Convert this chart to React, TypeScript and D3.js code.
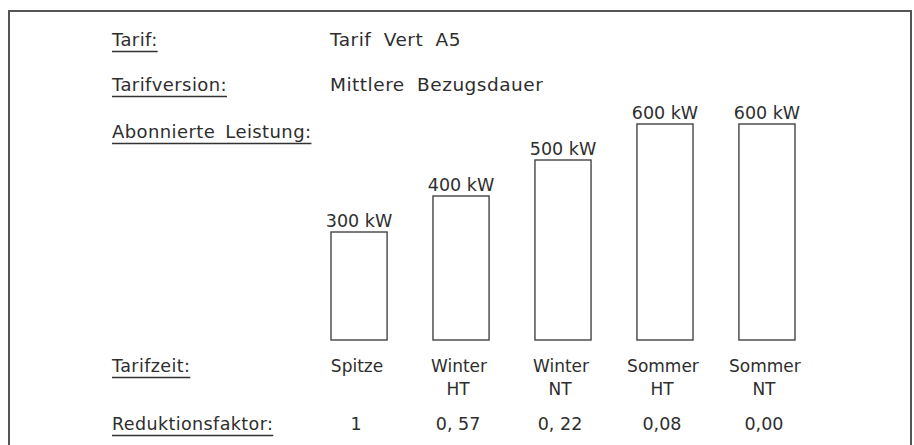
import React, { useEffect, useRef } from "react";
import * as d3 from "d3";

// header rows (label / value)
const headerLabels = ["Tarif:", "Tarifversion:", "Abonnierte Leistung:"];
const headerValues = ["Tarif Vert A5", "Mittlere Bezugsdauer", ""];

// one entry per tariff period
const tarifzeitTop = ["Spitze", "Winter", "Winter", "Sommer", "Sommer"];
const tarifzeitBottom = ["", "HT", "NT", "HT", "NT"];
const leistungKW = [300, 400, 500, 600, 600];
const reduktionsfaktor = ["1", "0, 57", "0, 22", "0,08", "0,00"];

const bottomLabels = ["Tarifzeit:", "Reduktionsfaktor:"];

const App = () => {
    const svgRef = useRef<SVGSVGElement>(null);

    useEffect(() => {
        const width = 914;
        const height = 445;
        const font = "'DejaVu Sans', sans-serif";
        const ink = "#2e2e2e";

        const svg = d3.select(svgRef.current);
        svg.selectAll("*").remove();
        svg.attr("width", width).attr("height", height);

        // frame, open at the bottom
        svg
            .append("path")
            .attr("d", `M9,${height} V11 H911 V${height}`)
            .attr("fill", "none")
            .attr("stroke", "#555")
            .attr("stroke-width", 2);

        const xScale = d3
            .scaleBand<number>()
            .domain(d3.range(leistungKW.length))
            .range([331, 795])
            .paddingInner(0.45)
            .paddingOuter(0);

        const yScale = d3.scaleLinear().domain([0, 600]).range([340, 124]);

        const cx = (i: number) => xScale(i)! + xScale.bandwidth() / 2;

        // left side labels with underline
        const labelX = 112;
        const labelRows = [
            { text: headerLabels[0], y: 46, size: 18 },
            { text: headerLabels[1], y: 91, size: 18 },
            { text: headerLabels[2], y: 138, size: 18 },
            { text: bottomLabels[0], y: 372, size: 17.5 },
            { text: bottomLabels[1], y: 430, size: 17.5 },
        ];

        labelRows.forEach((row) => {
            const t = svg
                .append("text")
                .attr("x", labelX)
                .attr("y", row.y)
                .style("font-family", font)
                .style("font-size", `${row.size}px`)
                .style("letter-spacing", "0.4px")
                .style("word-spacing", "4px")
                .style("fill", ink)
                .text(row.text);
            const w = (t.node() as SVGTextElement).getComputedTextLength();
            svg
                .append("line")
                .attr("x1", labelX)
                .attr("x2", labelX + w)
                .attr("y1", row.y + 5.5)
                .attr("y2", row.y + 5.5)
                .attr("stroke", "#333")
                .attr("stroke-width", 1.6);
        });

        // header values
        headerValues.forEach((v, i) => {
            if (!v) return;
            svg
                .append("text")
                .attr("x", 330)
                .attr("y", labelRows[i].y)
                .style("font-family", font)
                .style("font-size", "18.5px")
                .style("letter-spacing", "0.5px")
                .style("word-spacing", "6px")
                .style("fill", ink)
                .text(v);
        });

        // bars
        svg
            .selectAll(".bar")
            .data(leistungKW)
            .join("rect")
            .attr("class", "bar")
            .attr("x", (d, i) => xScale(i)!)
            .attr("y", (d) => yScale(d))
            .attr("width", xScale.bandwidth())
            .attr("height", (d) => yScale(0) - yScale(d))
            .attr("fill", "white")
            .attr("stroke", "#444")
            .attr("stroke-width", 1.4);

        // value labels
        svg
            .selectAll(".val")
            .data(leistungKW)
            .join("text")
            .attr("class", "val")
            .attr("x", (d, i) => cx(i))
            .attr("y", (d) => yScale(d) - 5)
            .attr("text-anchor", "middle")
            .style("font-family", font)
            .style("font-size", "17.5px")
            .style("fill", ink)
            .text((d) => `${d} kW`);

        // tarifzeit labels
        svg
            .selectAll(".tz1")
            .data(tarifzeitTop)
            .join("text")
            .attr("class", "tz1")
            .attr("x", (d, i) => cx(i) - 2)
            .attr("y", 372)
            .attr("text-anchor", "middle")
            .style("font-family", font)
            .style("font-size", "17px")
            .style("fill", ink)
            .text((d) => d);

        svg
            .selectAll(".tz2")
            .data(tarifzeitBottom)
            .join("text")
            .attr("class", "tz2")
            .attr("x", (d, i) => cx(i) - 3)
            .attr("y", 395)
            .attr("text-anchor", "middle")
            .style("font-family", font)
            .style("font-size", "17px")
            .style("fill", ink)
            .text((d) => d);

        // reduction factors
        svg
            .selectAll(".rf")
            .data(reduktionsfaktor)
            .join("text")
            .attr("class", "rf")
            .attr("x", (d, i) => cx(i) - 3)
            .attr("y", 430)
            .attr("text-anchor", "middle")
            .style("font-family", font)
            .style("font-size", "17.5px")
            .style("fill", ink)
            .text((d) => d);
    }, []);

    return (
        <svg
            ref={svgRef}
            style={{ position: "absolute", left: 0, top: 0, background: "white" }}
        ></svg>
    );
};

export default App;
